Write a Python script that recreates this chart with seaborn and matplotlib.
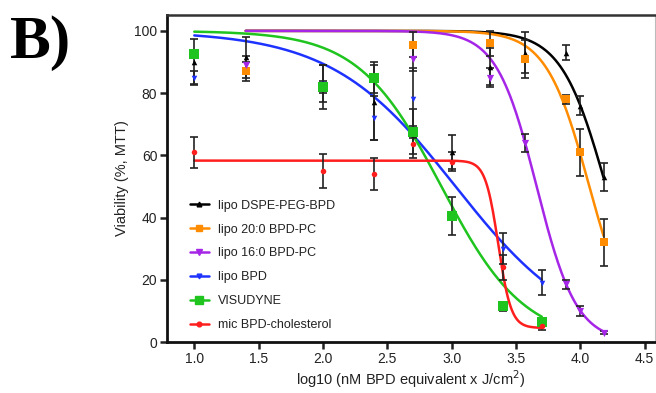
import numpy as np
import pandas as pd
import matplotlib
matplotlib.use("Agg")
import matplotlib.pyplot as plt
import seaborn as sns
from matplotlib.lines import Line2D

# ---------------- data ----------------
series = ["lipo DSPE-PEG-BPD", "lipo 20:0 BPD-PC", "lipo 16:0 BPD-PC",
          "lipo BPD", "VISUDYNE", "mic BPD-cholesterol"]
colors = ["#000000", "#FF8C00", "#A626E8", "#1E32FF", "#1FC41F", "#FF1E1E"]
markers = ["^", "s", "v", "v", "s", "o"]
msizes = [4.0, 5.2, 5.2, 4.0, 6.5, 4.0]

x_black = [1.0, 1.4, 2.0, 2.4, 2.7, 3.0, 3.3, 3.57, 3.89, 4.0, 4.18]
y_black = [90, 91.5, 82, 77, 67, 61, 88.5, 93, 93, 76, 53]
e_black = [7.5, 6.5, 7, 12, 8, 5.5, 6, 6.5, 2.5, 3, 4.5]

x_orange = [1.4, 2.7, 3.3, 3.57, 3.89, 4.0, 4.18]
y_orange = [87, 95.5, 96, 91, 78, 61, 32]
e_orange = [3, 4, 4, 6, 1.5, 7.5, 7.5]

x_purple = [1.4, 2.7, 3.3, 3.57, 3.89, 4.0, 4.18]
y_purple = [89, 91, 85, 64, 18.5, 10, 3]
e_purple = [3, 4, 3, 3, 1.5, 1.5, 0.5]

x_blue = [1.0, 2.0, 2.4, 2.7, 3.4, 3.7]
y_blue = [85, 83, 72, 78, 30, 19]
e_blue = [2, 6, 7, 10, 5, 4]

x_green = [1.0, 2.0, 2.4, 2.7, 3.0, 3.4, 3.7]
y_green = [92.5, 82, 85, 67.5, 40.5, 11.5, 6.5]
e_green = [1, 2, 5, 2, 6, 1.5, 1]

x_red = [1.0, 2.0, 2.4, 2.7, 3.0, 3.4, 3.7]
y_red = [61, 55, 54, 63.5, 58, 24, 5]
e_red = [5, 5.5, 5, 3, 3, 4, 1]

# fitted dose-response (sigmoid) parameters per series
fit_top = [100, 100, 100, 100, 100, 58.3]
fit_bottom = [0, 0, 0, 0, 0, 4.5]
fit_logic50 = [4.2, 4.07, 3.66, 3.03, 2.92, 3.362]
fit_hill = [2.5, 2.6, 2.8, 0.9, 1.35, 8.7]
fit_xmin = [1.4, 1.4, 1.4, 1.0, 1.0, 1.0]
fit_xmax = [4.18, 4.18, 4.18, 3.7, 3.7, 3.7]

xs_all = [x_black, x_orange, x_purple, x_blue, x_green, x_red]
ys_all = [y_black, y_orange, y_purple, y_blue, y_green, y_red]
es_all = [e_black, e_orange, e_purple, e_blue, e_green, e_red]

x_ticks = [1.0, 1.5, 2.0, 2.5, 3.0, 3.5, 4.0, 4.5]
y_ticks = [0, 20, 40, 60, 80, 100]

# ---------------- figure ----------------
sns.set_theme(style="ticks")
plt.rcParams['font.family'] = ['Liberation Sans', 'DejaVu Sans']

fig = plt.figure(figsize=(6.56, 3.93), dpi=100)
ax = fig.add_axes([167 / 656, 1 - 342 / 393, (655 - 167) / 656, (342 - 15) / 393])

# build tables
pts = pd.concat([pd.DataFrame({"series": s, "x": xs, "y": ys, "err": es})
                 for s, xs, ys, es in zip(series, xs_all, ys_all, es_all)],
                ignore_index=True)
curves = []
for s, t, b, c, h, x0, x1 in zip(series, fit_top, fit_bottom, fit_logic50,
                                 fit_hill, fit_xmin, fit_xmax):
    xx = np.linspace(x0, x1, 300)
    yy = b + (t - b) / (1 + 10 ** ((xx - c) * h))
    curves.append(pd.DataFrame({"series": s, "x": xx, "y": yy}))
curves = pd.concat(curves, ignore_index=True)

for i, s in enumerate(series):
    c = curves[curves.series == s]
    sns.lineplot(data=c, x="x", y="y", color=colors[i], lw=1.8, ax=ax,
                 zorder=2 + i, legend=False, sort=False)

for i, s in enumerate(series):
    p = pts[pts.series == s]
    ax.errorbar(p.x, p.y, yerr=p.err, fmt="none", ecolor="#222222",
                elinewidth=1.2, capsize=3, capthick=1.2, zorder=10)

for i, s in enumerate(series):
    p = pts[pts.series == s]
    sns.scatterplot(data=p, x="x", y="y", color=colors[i], marker=markers[i],
                    s=msizes[i] ** 2, edgecolor=colors[i], linewidth=0,
                    ax=ax, zorder=11, legend=False)

ax.set_xlim(0.788, 4.58)
ax.set_ylim(0, 105.1)
ax.set_xticks(x_ticks)
ax.set_xticklabels([f"{t:.1f}" for t in x_ticks])
ax.set_yticks(y_ticks)
ax.tick_params(axis="both", direction="out", length=5, width=1.8,
               labelsize=10, colors="#222222", pad=2)
for side in ["left", "bottom"]:
    ax.spines[side].set_linewidth(2.0)
    ax.spines[side].set_color("#111111")
ax.spines["top"].set_linewidth(1.8)
ax.spines["top"].set_color("#333333")
ax.spines["right"].set_linewidth(0.8)
ax.spines["right"].set_color("#bbbbbb")

ax.set_xlabel("log10 (nM BPD equivalent x J/cm$^{2}$)", fontsize=10.5,
              color="#222222", labelpad=2)
ax.set_ylabel("Viability (%, MTT)", fontsize=10.5, color="#222222", labelpad=4)

handles = [Line2D([0], [0], color=colors[i], marker=markers[i], lw=1.8,
                  markersize=msizes[i] * 0.85) for i in range(len(series))]
leg = fig.legend(handles, series, loc="lower left",
                 bbox_to_anchor=(190 / 656, 1 - 331 / 393), frameon=False,
                 fontsize=9, labelspacing=0.95, handlelength=1.5,
                 handletextpad=0.7, borderpad=0, borderaxespad=0)
for t in leg.get_texts():
    t.set_color("#222222")

fig.text(10 / 656, 1 - 58 / 393, "B)", fontsize=44, fontweight="bold",
         family=["Liberation Serif", "DejaVu Serif"], color="black")

fig.savefig("out.png", dpi=100)
